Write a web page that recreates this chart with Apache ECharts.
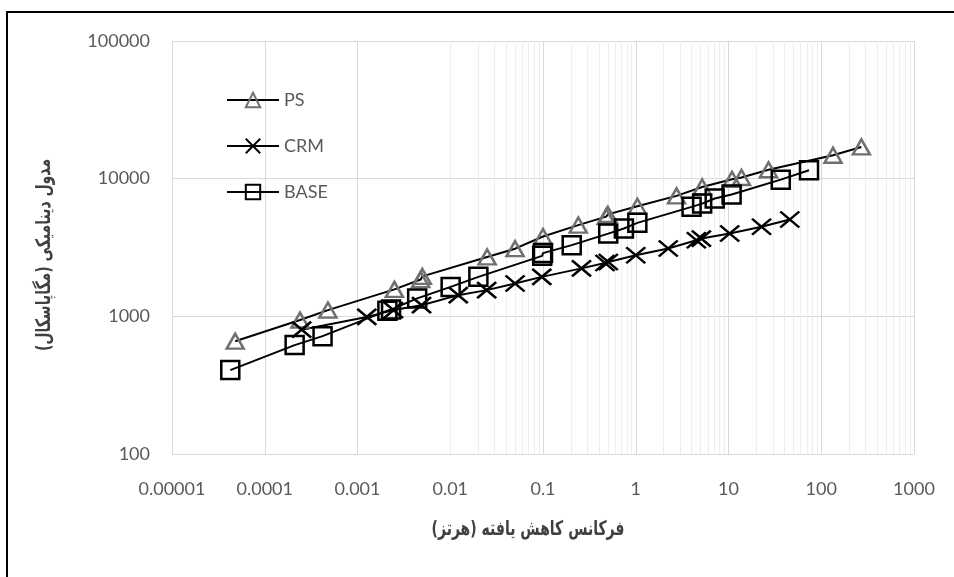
<!DOCTYPE html>
<html>
<head>
<meta charset="utf-8">
<script src="https://cdn.jsdelivr.net/npm/echarts@6/dist/echarts.min.js"></script>
<style>
  html, body { margin: 0; padding: 0; background: #fff; }
  #chart { width: 954px; height: 577px; }
</style>
</head>
<body>
<div id="chart"></div>
<script>
// Reduced frequency (Hz) and dynamic modulus (MPa) for each mixture
const psX = [0.000048, 0.00024, 0.00048, 0.0025, 0.0048, 0.005, 0.025, 0.05, 0.1, 0.24, 0.48, 0.5, 1.04, 2.75, 5.2, 10.9, 13.8, 27, 134, 271];
const psY = [660, 940, 1110, 1570, 1850, 1950, 2700, 3100, 3800, 4600, 5300, 5500, 6300, 7500, 8700, 9900, 10200, 11600, 14800, 17000];

const crmX = [0.00025, 0.00126, 0.00244, 0.0049, 0.0122, 0.0247, 0.05, 0.097, 0.26, 0.466, 0.506, 1.0, 2.24, 4.5, 5.1, 10.3, 22.7, 45.8];
const crmY = [800, 990, 1110, 1205, 1425, 1550, 1730, 1935, 2230, 2440, 2480, 2780, 3110, 3570, 3670, 4000, 4470, 5050];

const baseX = [0.0000425, 0.00021, 0.00042, 0.0021, 0.0023, 0.0044, 0.0101, 0.0201, 0.098, 0.1, 0.204, 0.505, 0.745, 1.04, 4.0, 5.2, 7.1, 10.8, 36.6, 73.8];
const baseY = [407, 618, 718, 1100, 1120, 1350, 1636, 1936, 2750, 2880, 3290, 3990, 4345, 4775, 6240, 6590, 7180, 7670, 9840, 11500];

const xTickLabels = ['0.00001', '0.0001', '0.001', '0.01', '0.1', '1', '10', '100', '1000'];
const yTickLabels = ['100', '1000', '10000', '100000'];
const minorSteps = [2, 3, 4, 5, 6, 7, 8, 9];

const xName = 'فرکانس کاهش یافته (هرتز)';
const yName = 'مدول دینامیکی (مگاپاسکال)';

const pairs = (xs, ys) => xs.map((x, i) => [x, ys[i]]);

// light vertical lines at 2..9 within every decade of the frequency axis
const minorLines = [];
for (let e = -5; e < 3; e++) {
  minorSteps.forEach(m => minorLines.push({ xAxis: m * Math.pow(10, e) }));
}

const tickFont = { color: '#595959', fontFamily: 'Lato', fontSize: 18 };
const titleStyle = {
  fill: '#404040',
  font: 'bold 20px "DejaVu Sans"',
  align: 'center',
  verticalAlign: 'middle'
};

const chart = echarts.init(document.getElementById('chart'), null, { renderer: 'canvas' });
chart.setOption({
  animation: false,
  backgroundColor: '#fff',
  graphic: [
    {
      type: 'rect',
      z: 100,
      silent: true,
      shape: { x: 7, y: 12, width: 980, height: 620 },
      style: { fill: 'none', stroke: '#000', lineWidth: 2 }
    },
    {
      // horizontal axis title
      type: 'text',
      silent: true,
      x: 528,
      y: 530,
      scaleX: 0.7,
      style: Object.assign({ text: xName }, titleStyle)
    },
    {
      // vertical axis title, reading upwards
      type: 'text',
      silent: true,
      x: 45,
      y: 255,
      rotation: Math.PI / 2,
      scaleX: 0.7,
      style: Object.assign({ text: yName }, titleStyle)
    }
  ],
  grid: { left: 172, right: 40, top: 41, bottom: 123, containLabel: false },
  legend: {
    orient: 'vertical',
    left: 221,
    top: 86,
    itemWidth: 52,
    itemHeight: 18,
    itemGap: 28,
    data: ['PS', 'CRM', 'BASE'],
    textStyle: { color: '#595959', fontFamily: 'Lato', fontSize: 18, lineHeight: 18 }
  },
  xAxis: {
    type: 'log',
    logBase: 10,
    min: 0.00001,
    max: 1000,
    splitNumber: 8,
    axisLine: { show: false },
    axisTick: { show: false },
    axisLabel: {
      ...tickFont,
      margin: 26,
      formatter: v => xTickLabels[Math.round(Math.log10(v)) + 5]
    },
    splitLine: { show: true, lineStyle: { color: '#d9d9d9', width: 1 } }
  },
  yAxis: {
    type: 'log',
    logBase: 10,
    min: 100,
    max: 100000,
    splitNumber: 3,
    axisLine: { show: false },
    axisTick: { show: false },
    axisLabel: {
      ...tickFont,
      margin: 22,
      formatter: v => yTickLabels[Math.round(Math.log10(v)) - 2]
    },
    splitLine: { show: true, lineStyle: { color: '#d9d9d9', width: 1 } }
  },
  series: [
    {
      name: 'minor-grid',
      type: 'line',
      data: [],
      silent: true,
      z: 1,
      markLine: {
        silent: true,
        animation: false,
        z: 1,
        symbol: ['none', 'none'],
        label: { show: false },
        lineStyle: { color: '#eeeeee', width: 1, type: 'solid' },
        emphasis: { disabled: true },
        data: minorLines
      }
    },
    {
      name: 'PS',
      type: 'line',
      z: 3,
      data: pairs(psX, psY),
      symbol: 'triangle',
      symbolSize: [17, 15],
      lineStyle: { color: '#000', width: 2 },
      itemStyle: { color: 'rgba(255,255,255,0)', borderColor: '#707070', borderWidth: 2.5 }
    },
    {
      name: 'CRM',
      type: 'line',
      z: 3,
      data: pairs(crmX, crmY),
      symbol: 'path://M0,0L20,17M20,0L0,17',
      symbolSize: [19, 16],
      lineStyle: { color: '#000', width: 2 },
      itemStyle: { color: 'rgba(0,0,0,0)', borderColor: '#000', borderWidth: 2.5 }
    },
    {
      name: 'BASE',
      type: 'line',
      z: 4,
      data: pairs(baseX, baseY),
      symbol: 'rect',
      symbolSize: 18,
      lineStyle: { color: '#000', width: 2 },
      itemStyle: { color: 'rgba(255,255,255,0)', borderColor: '#000', borderWidth: 2.5 }
    }
  ]
});
</script>
</body>
</html>
